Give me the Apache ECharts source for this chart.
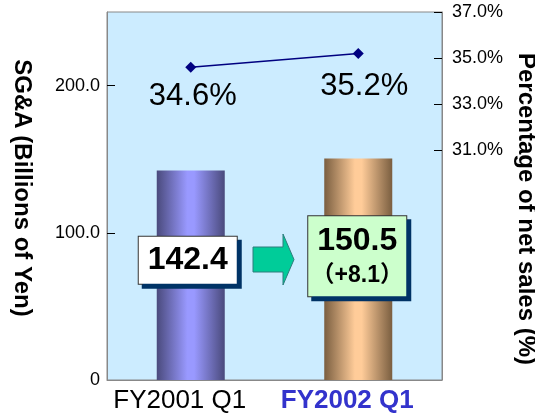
<!DOCTYPE html>
<html>
<head>
<meta charset="utf-8">
<script src="https://cdn.jsdelivr.net/npm/echarts@6/dist/echarts.min.js"></script>
<style>
html,body{margin:0;padding:0;background:#fff;}
#c{width:535px;height:419px;}
</style>
</head>
<body>
<div id="c"></div>
<script>
var categories = ['FY2001 Q1', 'FY2002 Q1'];
var sgaValues = [142.4, 150.5];
var pctValues = [34.6, 35.2];
var leftTicks = [0, 100, 200];
var rightTicks = [31, 33, 35, 37];

var FONT = 'Liberation Sans, Arial, sans-serif';
var chart = echarts.init(document.getElementById('c'));

var barGrad = [
  ['#4a4a7c', '#9999ff'],
  ['#7a5e40', '#ffcc99']
];
var diff = (sgaValues[1] - sgaValues[0]).toFixed(1);

var barData = sgaValues.map(function (v, i) {
  var item = {
    value: v,
    itemStyle: {
      color: new echarts.graphic.LinearGradient(0, 0, 1, 0, [
        {offset: 0, color: barGrad[i][0]},
        {offset: 0.45, color: barGrad[i][1]},
        {offset: 0.55, color: barGrad[i][1]},
        {offset: 1, color: barGrad[i][0]}
      ])
    }
  };
  if (i === 0) {
    item.label = {
      show: true, position: 'inside', offset: [-3, -15],
      formatter: v.toFixed(1),
      fontFamily: FONT, fontSize: 32, fontWeight: 'bold', color: '#000',
      backgroundColor: '#ffffff', borderColor: '#333333', borderWidth: 1,
      width: 98, height: 47, lineHeight: 47, align: 'center', verticalAlign: 'middle',
      shadowColor: '#003366', shadowOffsetX: 4, shadowOffsetY: 4, shadowBlur: 0
    };
  } else {
    item.label = {
      show: true, position: 'inside', offset: [-1, -13],
      formatter: '{a|' + v.toFixed(1) + '}\n{b|（+' + diff + '）}',
      backgroundColor: '#ccffcc', borderColor: '#333333', borderWidth: 1,
      width: 98, padding: [6, 0, 6, 0], align: 'center',
      shadowColor: '#003366', shadowOffsetX: 4, shadowOffsetY: 4, shadowBlur: 0,
      rich: {
        a: {fontFamily: FONT, fontSize: 32, fontWeight: 'bold', color: '#000', lineHeight: 38, align: 'center', width: 98},
        b: {fontFamily: FONT + ', Noto Sans CJK JP', fontSize: 23, fontWeight: 'bold', color: '#000', lineHeight: 30, align: 'center', width: 98}
      }
    };
  }
  return item;
});

var pctOffsets = [[2, 0], [6, 4]];
var lineData = pctValues.map(function (v, i) {
  return {value: v, label: {offset: pctOffsets[i]}};
});

chart.setOption({
  animation: false,
  grid: {left: 107, right: 93, top: 12, bottom: 39, show: true, containLabel: false,
         outerBoundsMode: 'none',
         backgroundColor: '#ccecff', borderColor: '#888888', borderWidth: 1},
  xAxis: {
    type: 'category', data: categories,
    axisLine: {lineStyle: {color: '#888888'}},
    axisTick: {inside: true, length: 8, lineStyle: {color: '#000'}},
    axisLabel: {
      interval: 0, hideOverlap: false,
      fontFamily: FONT, fontSize: 26, color: '#000', margin: 8, padding: [0, 22, 0, 0],
      formatter: function (v, i) { return i === 1 ? '{b|' + v + '}' : v; },
      rich: {b: {fontFamily: FONT, fontSize: 26, fontWeight: 'bold', color: '#3333cc'}}
    }
  },
  yAxis: [{
    type: 'value', min: 0, max: 250, interval: 50,
    name: 'SG&A (Billions of Yen)', nameLocation: 'middle', nameRotate: -90, nameGap: 73,
    nameTextStyle: {fontFamily: FONT, fontSize: 24, fontWeight: 'bold', color: '#000', padding: [0, 16, 0, 0]},
    axisLine: {show: true, lineStyle: {color: '#888888'}},
    axisTick: {show: true, inside: true, length: 8, lineStyle: {color: '#000'}, customValues: leftTicks.slice(1)},
    axisLabel: {fontFamily: FONT, fontSize: 18, color: '#000', margin: 7, customValues: leftTicks,
      formatter: function (v) { return v === 0 ? '0' : v.toFixed(1); }},
    splitLine: {show: false}
  }, {
    type: 'value', min: 21, max: 37, interval: 2, position: 'right',
    name: 'Percentage of net sales (%)', nameLocation: 'middle', nameRotate: -90, nameGap: 67,
    nameTextStyle: {fontFamily: FONT, fontSize: 24, fontWeight: 'bold', color: '#000', padding: [0, 0, 0, 26]},
    axisLine: {show: true, lineStyle: {color: '#888888'}},
    axisTick: {show: true, inside: true, length: 8, lineStyle: {color: '#000'}, customValues: rightTicks},
    axisLabel: {fontFamily: FONT, fontSize: 18, color: '#000', margin: 10, customValues: rightTicks,
      formatter: function (v) { return v.toFixed(1) + '%'; }},
    splitLine: {show: false}
  }],
  series: [{
    type: 'bar', data: barData, barWidth: 68, yAxisIndex: 0, z: 2
  }, {
    type: 'line', data: lineData, yAxisIndex: 1, z: 3,
    symbol: 'diamond', symbolSize: 11,
    lineStyle: {color: '#000080', width: 1.5},
    itemStyle: {color: '#000080'},
    label: {show: true, position: 'bottom', distance: 8,
      fontFamily: FONT, fontSize: 31, color: '#000',
      formatter: function (p) { return p.value.toFixed(1) + '%'; }}
  }],
  graphic: [{
    type: 'polygon', z: 10,
    shape: {points: [[253, 247], [283, 247], [283, 234], [294, 259.5], [283, 285], [283, 272], [253, 272]]},
    style: {fill: '#00cc99', stroke: '#2e7d7d', lineWidth: 1}
  }]
});
</script>
</body>
</html>
